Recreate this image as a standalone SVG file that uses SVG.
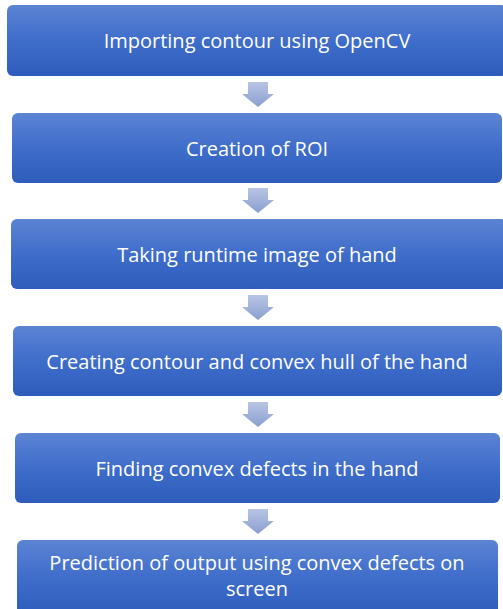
<svg xmlns="http://www.w3.org/2000/svg" width="503" height="609" viewBox="0 0 503 609">
<defs>
<linearGradient id="boxg" x1="0" y1="0" x2="0" y2="1">
<stop offset="0" stop-color="#5c84d4"/>
<stop offset="0.5" stop-color="#3f6dca"/>
<stop offset="1" stop-color="#2e5cbc"/>
</linearGradient>
<linearGradient id="arrg" x1="0" y1="0" x2="0" y2="1">
<stop offset="0" stop-color="#b8c5e4"/>
<stop offset="1" stop-color="#8a9fd1"/>
</linearGradient>
<style>
.box{fill:url(#boxg);}
.lbl{font-family:"Open Sans","Noto Sans",sans-serif;font-size:20px;fill:#ffffff;text-anchor:middle;dominant-baseline:central;}
.arr{fill:url(#arrg);}
</style>
</defs>
<rect width="503" height="609" fill="#ffffff"/>
<g id="connectors">
<path class="arr" d="M248,82 H268 V94 H274 L258,107 L242,94 H248 Z"/>
<path class="arr" d="M248,188 H268 V200 H274 L258,213 L242,200 H248 Z"/>
<path class="arr" d="M248,295 H268 V307 H274 L258,320 L242,307 H248 Z"/>
<path class="arr" d="M248,402 H268 V414 H274 L258,427 L242,414 H248 Z"/>
<path class="arr" d="M248,509 H268 V521 H274 L258,534 L242,521 H248 Z"/>
</g>
<g id="n1"><rect class="box" x="7" y="5" width="500" height="71" rx="6"/><text class="lbl" x="257" y="40">Importing contour using OpenCV</text></g>
<g id="n2"><rect class="box" x="12" y="113" width="490" height="70" rx="6"/><text class="lbl" x="257" y="148">Creation of ROI</text></g>
<g id="n3"><rect class="box" x="11" y="219" width="496" height="70" rx="6"/><text class="lbl" x="257" y="254">Taking runtime image of hand</text></g>
<g id="n4"><rect class="box" x="13" y="326" width="489" height="70" rx="6"/><text class="lbl" x="257" y="361">Creating contour and convex hull of the hand</text></g>
<g id="n5"><rect class="box" x="15" y="433" width="485" height="70" rx="6"/><text class="lbl" x="257" y="468">Finding convex defects in the hand</text></g>
<g id="n6"><rect class="box" x="17" y="540" width="481" height="75" rx="6"/><text class="lbl" x="257" y="562">Prediction of output using convex defects on</text><text class="lbl" x="257" y="588">screen</text></g>
</svg>
